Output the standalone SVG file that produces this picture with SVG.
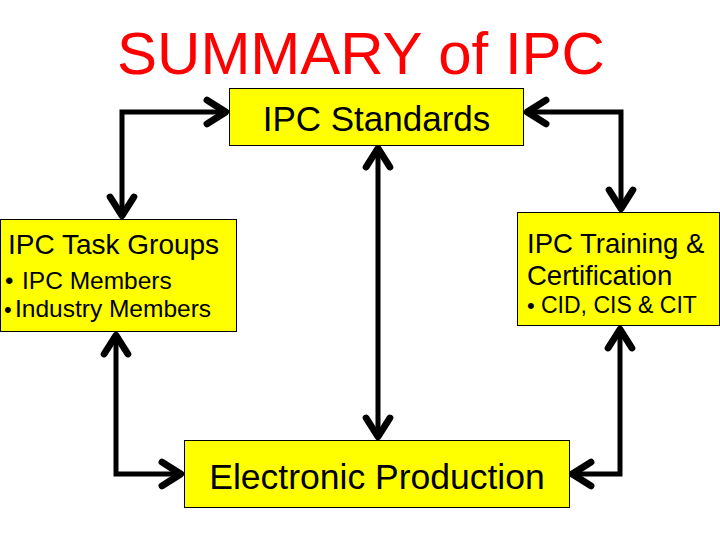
<svg xmlns="http://www.w3.org/2000/svg" width="720" height="540" viewBox="0 0 720 540">
<defs>
<style>
.box{fill:#ffff00;stroke:#000;stroke-width:1}
.t{font-family:"Liberation Sans",Arial,sans-serif;fill:#000}
.title{font-family:"Liberation Sans",Arial,sans-serif;fill:#ff0000;font-size:60px}
.c{fill:none;stroke:#000;stroke-width:5;stroke-linejoin:miter}
</style>
<marker id="ah" markerUnits="userSpaceOnUse" markerWidth="30" markerHeight="30" viewBox="-20 -12 24 24" refX="0" refY="0" orient="auto-start-reverse" overflow="visible">
<path d="M -16 -9.5 L -1 0 L -16 9.5" fill="none" stroke="#000" stroke-width="5.5" stroke-linecap="round" stroke-linejoin="round"/>
</marker>
</defs>
<rect width="720" height="540" fill="#fff"/>
<text class="title" x="361" y="74" text-anchor="middle">SUMMARY of IPC</text>
<g id="connectors">
<path class="c" d="M 227 112 H 122 V 217" marker-start="url(#ah)" marker-end="url(#ah)"/>
<path class="c" d="M 526 112 H 621 V 210" marker-start="url(#ah)" marker-end="url(#ah)"/>
<path class="c" d="M 378 147 V 438" marker-start="url(#ah)" marker-end="url(#ah)"/>
<path class="c" d="M 116 334 V 474 H 182" marker-start="url(#ah)" marker-end="url(#ah)"/>
<path class="c" d="M 620 328 V 474 H 571" marker-start="url(#ah)" marker-end="url(#ah)"/>
</g>
<g id="standards">
<rect class="box" x="229.5" y="88.5" width="294" height="57"/>
<text class="t" x="376.5" y="131" font-size="35" text-anchor="middle">IPC Standards</text>
</g>
<g id="taskgroups">
<rect class="box" x="0.5" y="219.5" width="236" height="112"/>
<text class="t" x="8" y="254" font-size="28">IPC Task Groups</text>
<text class="t" x="5" y="289" font-size="24">•</text>
<text class="t" x="22" y="289" font-size="24.5">IPC Members</text>
<text class="t" x="4" y="317" font-size="22">•</text>
<text class="t" x="15" y="317" font-size="24.5">Industry Members</text>
</g>
<g id="training">
<rect class="box" x="517.5" y="212.5" width="202" height="113"/>
<text class="t" x="527" y="253" font-size="27.5">IPC Training &amp;</text>
<text class="t" x="527" y="285" font-size="27.5">Certification</text>
<text class="t" x="527" y="313" font-size="22">•</text>
<text class="t" x="541" y="313" font-size="23">CID, CIS &amp; CIT</text>
</g>
<g id="production">
<rect class="box" x="184.5" y="440.5" width="385" height="67"/>
<text class="t" x="377" y="489" font-size="35.5" text-anchor="middle">Electronic Production</text>
</g>
</svg>
